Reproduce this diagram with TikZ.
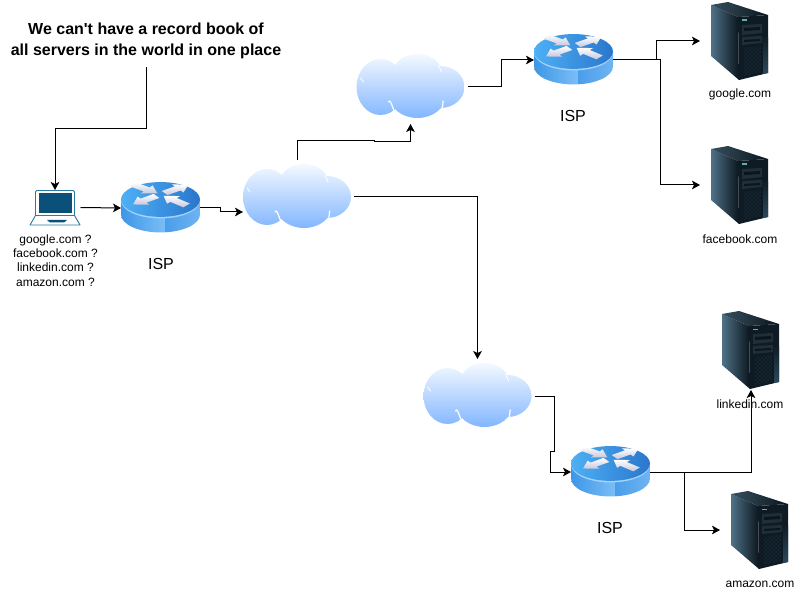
\documentclass[tikz,border=0pt]{standalone}
\usepackage{fontspec}
\setmainfont{Liberation Sans}
\newfontfamily\notefont{Liberation Sans}
\usepackage{xcolor}
\usepackage{tikz}
\usetikzlibrary{arrows.meta}
\usetikzlibrary{patterns}
\usetikzlibrary{calc}
\definecolor{rtTopL}{HTML}{4DB0F5}
\definecolor{rtTopR}{HTML}{2A76CC}
\definecolor{rtRim}{HTML}{A5D3FA}
\definecolor{rtSideA}{HTML}{3C96E6}
\definecolor{rtSideB}{HTML}{7CBEF7}
\definecolor{rtSideC}{HTML}{4A9EEA}
\definecolor{rtSideD}{HTML}{3F8CDE}
\definecolor{cloudTop}{HTML}{F4F9FF}
\definecolor{cloudBot}{HTML}{82B6FF}
\definecolor{lapLine}{HTML}{2B7A9F}
\definecolor{lapFill}{HTML}{0A5078}
\definecolor{srvLight}{HTML}{4F7288}
\definecolor{srvDark}{HTML}{0B151C}
\definecolor{srvFront}{HTML}{0E1B24}
\definecolor{srvBay}{HTML}{1F2E38}
\definecolor{srvEdge}{HTML}{2B4A5C}
\definecolor{srvLed}{HTML}{5FB0A8}
\newcommand{\rtout}[1]{\path[rt_a,rotate=#1] (5,-5)--(21,-5)--(21,-10)--(34,0)--(21,10)--(21,5)--(5,5)--cycle;}
\newcommand{\rtin}[1]{\path[rt_a,rotate=#1] (34,-5)--(17,-5)--(17,-10)--(4,0)--(17,10)--(17,5)--(34,5)--cycle;}
\tikzset{
  box_n/.style = {inner sep=0pt, outer sep=0pt},% only holds the place of an icon
  rt_n/.style = {box_n, minimum width=79*0.75pt, minimum height=50*0.75pt},
  cl_n/.style = {box_n, minimum width=114*0.75pt, minimum height=74*0.75pt},
  srv_n/.style = {box_n, minimum width=80*0.75pt, minimum height=80*0.75pt},
  lap_n/.style = {box_n, minimum width=51*0.75pt, minimum height=35*0.75pt},
  lbl/.style = {inner sep=0pt, align=center, font=\fontsize{9}{10.7}\selectfont},
  isp_l/.style = {inner sep=0pt, font=\fontsize{12}{14}\selectfont},
  link/.style = {->, line width=0.75pt, >={Stealth[length=6pt,width=6.5pt,inset=1.5pt]}},
  rt_a/.style = {top color=white, bottom color=blue!25!gray!35},
  routericon/.pic = {
    \begin{scope}[yshift=0.4pt]
    \begin{scope}
      \clip (-39.5,7) rectangle (39.5,-8) (0,7) ellipse [x radius=39.5, y radius=18];
      \path[left color=rtSideA, right color=rtSideB] (-40,-9) rectangle (5,26);
      \path[left color=rtSideC, middle color=rtSideD, right color=rtSideB!80!rtSideD] (5,-9) rectangle (40,26);
    \end{scope}
    \path[fill=rtRim] (0,-7) ellipse [x radius=39.5, y radius=18];
    \path[left color=rtTopL, right color=rtTopR] (0,-8) ellipse [x radius=39.5, y radius=17.4];
    \begin{scope}[shift={(0,-13)},yscale=0.5]
      \rtout{216}
      \rtout{35}
      \rtin{144}
      \rtin{-40}
    \end{scope}
    \end{scope}
  },
  cloudicon/.pic = {
    \path[top color=cloudTop, bottom color=cloudBot]
      (-30,0) ellipse [x radius=24, y radius=28]
      (30,0) ellipse [x radius=24, y radius=21]
      (7,-15) ellipse [x radius=24, y radius=18]
      (7,9) ellipse [x radius=28, y radius=22]
      (0,0) ellipse [x radius=32, y radius=20];
    % creases between the lobes
    \draw[white, line width=0.9pt, line cap=round] (-22,15) to[out=60,in=215] (-12,27);
    \draw[white, line width=0.9pt, line cap=round] (33,14) to[out=100,in=-70] (31,22);
    \draw[white, line width=0.6pt, line cap=round] (28,-22) -- (31,-15);
    \draw[white, line width=0.6pt, line cap=round] (-50,-9) -- (-47,-5);
  },
  servericon/.pic = {
    \path[shading angle=125, left color=srvLight, right color=srvDark]
      (-29,-36) -- (-2,-24) -- (-1,39) -- (-29,15) -- cycle;
    \path[left color=srvLight!70!black, right color=srvDark]
      (-29,-36) -- (-12,-39) -- (28,-26) -- (-2,-24) -- cycle;
    \path[fill=srvFront] (-2,-24) -- (28,-26) -- (28,32) -- (-1,39) -- cycle;
    \path[top color=srvEdge!40!black, bottom color=srvEdge] (23,-3) -- (28,-4) -- (28,32) -- (23,33) -- cycle;
    \path[fill=srvBay] (2,-16) -- (22,-17) -- (22,-8) -- (2,-6) -- cycle;
    \path[fill=srvDark] (4,-13) -- (20,-14) -- (20,-11) -- (4,-10) -- cycle;
    \path[fill=srvBay] (2,-4) -- (22,-5) -- (22,2) -- (2,4) -- cycle;
    \path[fill=srvDark] (4,-1) -- (20,-2) -- (20,0) -- (4,1) -- cycle;
    \path[fill=srvLed] (2,-21.5) rectangle (7,-20);
    \path[pattern=crosshatch dots, pattern color=srvEdge] (4,7) -- (21,5) -- (21,31) -- (4,35) -- cycle;
  },
  laptopicon/.pic = {
    \draw[draw=lapLine, fill=white, line width=0.7pt, rounded corners=1pt] (-19.5,8) -- (-19.5,-17) -- (19.5,-17) -- (19.5,8);
    \path[fill=lapFill] (-16.5,-14) rectangle (16.5,5.5);
    \draw[draw=lapLine, fill=white, line width=0.7pt, line join=round] (-19.5,8) -- (19.5,8) -- (25,17.5) -- (-25,17.5) -- cycle;
    \path[fill=lapFill] (-8,12.5) -- (12,12.5) -- (9,15) -- (-5,15) -- cycle;
  }
}
\begin{document}
\begin{tikzpicture}[x=0.75pt,y=-0.75pt]
\useasboundingbox (0,0) rectangle (801,592);

\node [lap_n] (lap) at (55,207.5) {};
\node [rt_n] (rtA) at (160.5,208) {};
\node [rt_n] (rtB) at (573.5,60) {};
\node [rt_n] (rtC) at (610.5,472) {};
\node [cl_n] (clA) at (297,197) {};
\node [cl_n] (clB) at (410.5,87) {};
\node [cl_n] (clC) at (477.5,396) {};
\node [srv_n] (srvG) at (740,41) {};
\node [srv_n] (srvF) at (740,185) {};
\node [srv_n] (srvL) at (751,350) {};
\node [srv_n] (srvA) at (760,530) {};

\pic at (lap) {laptopicon};
\pic at (rtA) {routericon};
\pic at (rtB) {routericon};
\pic at (rtC) {routericon};
\pic at (clA) {cloudicon};
\pic at (clB) {cloudicon};
\pic at (clC) {cloudicon};
\pic at (srvG) {servericon};
\pic at (srvF) {servericon};
\pic at (srvL) {servericon};
\pic at (srvA) {servericon};

\node [inner sep=0pt, align=center, minimum height=52*0.75pt, font=\notefont\fontsize{12}{15.7}\selectfont\bfseries] (note) at (146,41)
  {We can't have a record book of\\all servers in the world in one place};
\node [lbl] (lapText) at (55.5,260.5) {google.com ?\\facebook.com ?\\linkedin.com ?\\amazon.com ?};
\node [isp_l] (ispA) at (161,264) {ISP};
\node [isp_l] (ispB) at (573,116) {ISP};
\node [isp_l] (ispC) at (610,528) {ISP};
\node [lbl] (txtG) at (740,94) {google.com};
\node [lbl] (txtF) at (740,239) {facebook.com};
\node [lbl] (txtL) at (750,404) {linkedin.com};
\node [lbl] (txtA) at (760,584) {amazon.com};

\coordinate (clAin) at ([shift={(3,15)}]clA.west);

\draw[link] (note.south) -- ++(0,61) -| (lap.north);
\draw[link] (lap.east) -- (rtA.west);
\draw[link] (rtA.east) -- ++(20,0) |- (clAin);
\draw[link] (clA.north) |- ++(77,-19.5) -- ++(0,1.5) -| (clB.south);
\draw[link] (clA.east) -| (clC.north);
\draw[link] (clB.east) -- ++(33.5,0) |- (rtB.west);
\draw[link] (rtB.east) -- ++(43.5,0) |- (srvG.west);
\draw[link] (rtB.east) -- ++(47,0) |- (srvF.west);
\draw[link] (clC.east) -- ++(19.5,0) -- ++(0,55) -- ++(-4,0) |- (rtC.west);
\draw[link] (rtC.east) -| (srvL.south);
\draw[link] (rtC.east) -- ++(34,0) |- (srvA.west);
\end{tikzpicture}
\end{document}
